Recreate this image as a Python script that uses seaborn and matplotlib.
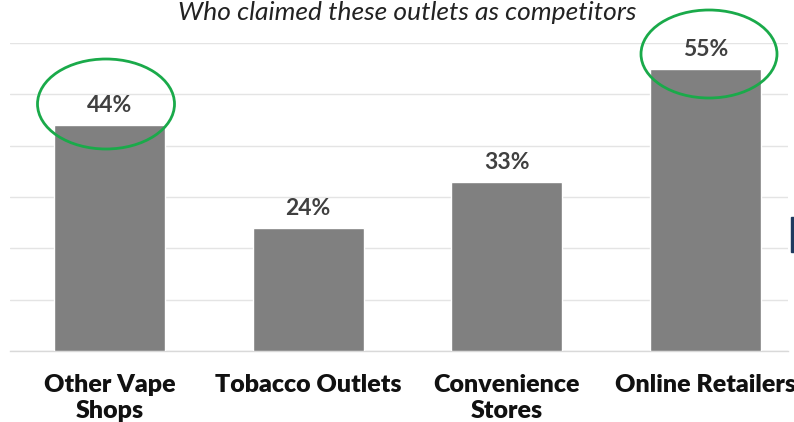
import matplotlib
matplotlib.use("Agg")
import matplotlib.pyplot as plt
import seaborn as sns
import pandas as pd
from matplotlib.patches import Ellipse, Rectangle

categories = ["Other Vape\nShops", "Tobacco Outlets", "Convenience\nStores", "Online Retailers"]
values = [44, 24, 33, 55]
value_labels = ["44%", "24%", "33%", "55%"]
highlighted = [0, 3]
title = "Who claimed these outlets as competitors"

sns.set_theme(style="white")
plt.rcParams['font.family'] = ['Lato', 'DejaVu Sans']

df = pd.DataFrame({"cat": categories, "val": values})

W, H = 794, 422
fig = plt.figure(figsize=(W / 100, H / 100), dpi=100)
ax_left, ax_right, ax_top, ax_bot = 10, 788, 43, 351
ax = fig.add_axes([ax_left / W, (H - ax_bot) / H, (ax_right - ax_left) / W, (ax_bot - ax_top) / H])

sns.barplot(data=df, x="cat", y="val", color="#808080", saturation=1, width=0.56, ax=ax, zorder=3)

c0, step = 109.5, 198.67
ax.set_xlim((ax_left - c0) / step, (ax_right - c0) / step)
ax.set_ylim(0, 60)
ax.set_yticks(range(0, 61, 10))
ax.yaxis.grid(True, color="#e4e4e4", linewidth=1.0, zorder=0)
ax.set_yticklabels([])
ax.tick_params(axis="y", length=0)
ax.tick_params(axis="x", length=0, pad=16.5)
for s in ["top", "right", "left"]:
    ax.spines[s].set_visible(False)
ax.spines["bottom"].set_color("#d9d9d9")
ax.spines["bottom"].set_linewidth(1.0)
ax.set_xlabel("")
ax.set_ylabel("")
for lbl in ax.get_xticklabels():
    lbl.set_fontsize(18)
    lbl.set_fontweight("heavy")
    lbl.set_color("#111111")
    lbl.set_linespacing(1.23)

for i, (v, t) in enumerate(zip(values, value_labels)):
    ax.annotate(t, (i, v), xytext=(0, 14), textcoords="offset points",
                ha="center", va="center", fontsize=16.5, fontweight="bold", color="#404040")

# highlight ellipses (in pixel coordinates of figure)
ell_px = {0: (106, 104, 137, 90), 3: (709, 54, 136, 88)}
for i in highlighted:
    cx, cy, w, h = ell_px[i]
    e = Ellipse((cx / W, 1 - cy / H), w / W, h / H, transform=fig.transFigure,
                fill=False, edgecolor="#1aaa4a", linewidth=2.0, zorder=10)
    fig.patches.append(e)

fig.text(407 / W, 1 - 12 / H, title, ha="center", va="center", fontsize=19,
         style="italic", color="#222222")

fig.patches.append(Rectangle((791 / W, 1 - 252 / H), 3 / W, 35 / H, transform=fig.transFigure,
                             color="#1f3a5f", zorder=10))

fig.savefig("out.png", dpi=100)
